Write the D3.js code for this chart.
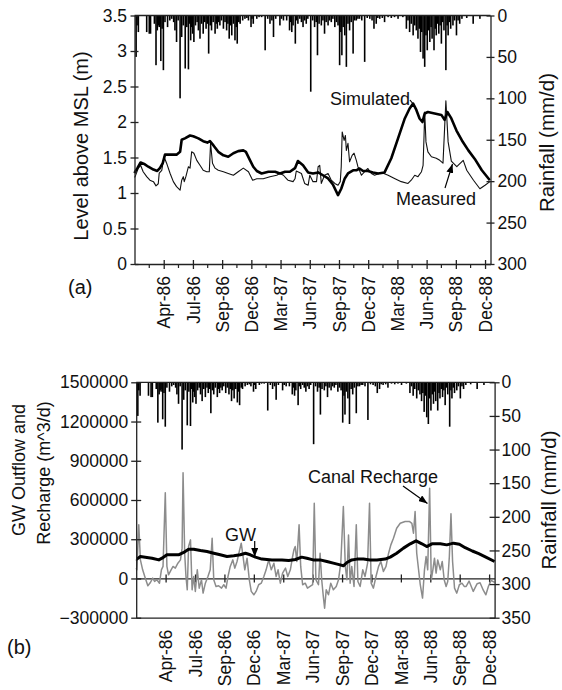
<!DOCTYPE html>
<html>
<head>
<meta charset="utf-8">
<script src="https://cdn.jsdelivr.net/npm/d3@7"></script>
<style>
  body { margin: 0; background: #fff; }
  svg text { font-family: "Liberation Sans", Arial, Helvetica, sans-serif; fill: #111; }
  .axis text { font-size: 17.5px; font-family: "Liberation Sans", Arial, Helvetica, sans-serif; }
  .axis line, .axis path { stroke: #222; stroke-width: 1.3; }
  .frame { stroke: #222; stroke-width: 1.3; }
</style>
</head>
<body>
<div id="chart"></div>
<script>
// all series are [day, value] where day = days after 31 Dec 1985
var startDay = new Date(1985, 11, 31);
var endDay = d3.timeDay.offset(startDay, 1109);
function toDate(d) { return d3.timeDay.offset(startDay, d); }

var tickDates = ["1986-04-01", "1986-07-01", "1986-09-30", "1986-12-30", "1987-03-31", "1987-06-30",
                 "1987-09-29", "1987-12-29", "1988-03-29", "1988-06-28", "1988-09-27", "1988-12-27"];
var levelTicks = [0, 0.5, 1, 1.5, 2, 2.5, 3, 3.5];
var rainTicksA = [0, 50, 100, 150, 200, 250, 300];
var flowTicks = [-300000, 0, 300000, 600000, 900000, 1200000, 1500000];
var rainTicksB = [0, 50, 100, 150, 200, 250, 300, 350];

// daily rainfall (mm/d)
var rainfall = [[5,50],[8,12],[12,20],[38,20],[46,22],[50,22],[62,10],[67,60],[71,18],[74,12],[77,14],[80,10],
  [82,55],[86,16],[90,66],[95,8],[103,14],[110,6],[116,4],[122,8],[126,18],[131,32],[136,6],[142,100],[147,26],
  [152,12],[158,64],[163,14],[168,65],[172,10],[175,30],[178,14],[181,22],[185,32],[190,12],[195,8],[199,18],
  [204,28],[209,10],[214,22],[219,8],[223,16],[227,10],[231,46],[236,12],[240,18],[245,8],[251,22],[255,10],
  [258,16],[262,8],[266,12],[271,6],[277,16],[282,8],[287,18],[291,10],[295,28],[299,12],[303,24],[308,10],
  [313,30],[317,14],[320,34],[325,8],[329,10],[337,6],[344,4],[350,3],[355,6],[363,14],[366,4],[370,10],[381,4],
  [388,2],[396,2],[407,42],[415,4],[422,10],[428,6],[433,26],[440,4],[453,12],[458,4],[464,6],[474,6],[483,18],
  [486,8],[490,20],[494,12],[501,34],[505,6],[509,10],[515,4],[520,8],[525,14],[530,6],[535,10],[540,4],[549,92],
  [555,6],[561,14],[566,8],[570,48],[575,10],[582,12],[587,6],[592,22],[597,8],[603,12],[608,6],[613,8],[618,4],
  [624,14],[629,8],[634,12],[639,60],[643,20],[646,48],[650,14],[655,24],[660,62],[665,10],[670,18],[675,8],
  [681,46],[686,6],[691,6],[696,4],[701,4],[708,6],[717,56],[725,3],[733,4],[740,6],[746,16],[753,10],[758,3],
  [764,4],[772,3],[779,8],[790,2],[800,3],[810,2],[821,4],[836,2],[847,16],[852,6],[857,20],[862,10],[868,24],
  [873,12],[878,18],[883,28],[887,16],[891,44],[895,20],[899,52],[904,62],[908,24],[912,42],[916,18],[920,32],
  [924,14],[927,28],[933,42],[937,16],[940,24],[944,10],[948,22],[952,12],[956,34],[960,8],[964,18],[970,66],
  [974,12],[977,24],[981,8],[985,16],[992,12],[997,6],[1003,24],[1008,6],[1013,10],[1020,4],[1035,3],[1055,10],[1076,4]];

// level above MSL (m)
var simulated = [[0,1.28],[2,1.30],[9,1.35],[19,1.43],[30,1.41],[43,1.37],[59,1.33],[71,1.31],[79,1.35],[88,1.42],
  [95,1.54],[111,1.54],[131,1.54],[142,1.58],[147,1.75],[157,1.77],[173,1.81],[183,1.80],[199,1.77],[214,1.73],
  [227,1.71],[235,1.73],[246,1.67],[261,1.58],[277,1.53],[292,1.51],[308,1.56],[323,1.59],[339,1.60],[347,1.58],
  [360,1.46],[370,1.37],[381,1.31],[396,1.275],[417,1.30],[438,1.30],[453,1.275],[469,1.30],[484,1.30],[500,1.35],
  [509,1.45],[525,1.39],[541,1.29],[556,1.275],[572,1.29],[587,1.25],[603,1.205],[618,1.12],[634,0.97],[644,1.06],
  [655,1.205],[665,1.275],[681,1.32],[691,1.32],[701,1.345],[712,1.31],[727,1.31],[743,1.29],[759,1.275],[779,1.29],
  [800,1.49],[821,1.77],[842,2.05],[857,2.19],[868,2.26],[878,2.17],[888,2.05],[897,2.00],[904,2.12],[914,2.14],
  [935,2.12],[956,2.10],[966,2.03],[975,2.14],[987,2.05],[1003,1.88],[1020,1.74],[1040,1.60],[1060,1.48],
  [1082,1.32],[1107,1.18]];

var measured = [[0,1.22],[2,1.23],[12,1.35],[19,1.39],[27,1.30],[38,1.23],[48,1.18],[59,1.16],[67,1.10],[74,1.13],
  [77,1.28],[85,1.32],[92,1.51],[100,1.42],[111,1.275],[121,1.16],[131,1.09],[142,1.04],[147,1.18],[152,1.23],
  [155,1.16],[160,1.23],[168,1.37],[173,1.35],[178,1.58],[185,1.56],[194,1.46],[204,1.39],[214,1.32],[225,1.30],
  [233,1.30],[237,1.70],[243,1.42],[251,1.35],[261,1.32],[277,1.30],[292,1.275],[308,1.25],[323,1.30],[339,1.35],
  [355,1.30],[368,1.18],[381,1.20],[401,1.20],[422,1.23],[443,1.25],[453,1.275],[464,1.25],[474,1.20],[478,1.18],
  [494,1.16],[500,1.20],[504,1.31],[520,1.275],[530,1.135],[541,1.11],[546,1.25],[556,1.16],[567,1.16],[572,1.37],
  [577,1.39],[582,1.135],[592,1.25],[603,1.275],[613,1.18],[624,1.135],[634,1.11],[641,1.16],[644,1.37],[647,1.86],
  [653,1.74],[657,1.81],[660,1.60],[665,1.70],[670,1.44],[678,1.53],[684,1.56],[691,1.46],[696,1.37],[707,1.25],
  [717,1.30],[727,1.345],[738,1.275],[748,1.25],[769,1.29],[790,1.25],[810,1.205],[831,1.16],[852,1.135],[862,1.18],
  [873,1.25],[883,1.23],[894,1.30],[899,1.39],[902,1.81],[904,2.14],[908,1.72],[914,1.58],[925,1.51],[940,1.49],
  [951,1.46],[961,1.42],[966,1.91],[970,2.30],[977,1.72],[987,1.45],[1004,1.37],[1024,1.46],[1035,1.32],[1056,1.18],
  [1076,1.06],[1092,1.11],[1107,1.16]];

// m^3/d
var gwOutflow = [[0,150000],[2,148000],[13,168000],[28,163000],[49,155000],[70,142000],[80,155000],[95,181000],
  [111,181000],[131,181000],[147,199000],[162,224000],[178,224000],[199,214000],[219,206000],[240,193000],
  [260,181000],[281,168000],[302,173000],[322,181000],[338,193000],[353,181000],[369,163000],[389,148000],
  [420,142000],[451,142000],[472,137000],[493,145000],[512,163000],[528,155000],[548,142000],[569,142000],
  [590,130000],[610,117000],[631,104000],[641,97000],[652,122000],[667,142000],[683,148000],[703,148000],
  [724,142000],[745,142000],[770,148000],[786,163000],[806,193000],[827,232000],[848,265000],[866,288000],
  [884,265000],[899,244000],[915,265000],[941,265000],[961,257000],[982,270000],[1000,262000],[1018,235000],
  [1040,210000],[1060,190000],[1085,160000],[1109,130000]];

var canalRecharge = [[0,80000],[2,66000],[8,410000],[13,142000],[20,66000],[28,3000],[36,-56000],[44,-31000],
  [51,3000],[57,-23000],[64,-10000],[72,-36000],[78,66000],[83,92000],[90,655000],[95,92000],[100,28000],
  [108,66000],[114,92000],[121,79000],[129,117000],[137,142000],[142,232000],[145,809000],[150,193000],[154,15000],
  [158,-87000],[162,244000],[168,295000],[173,-87000],[178,15000],[183,-99000],[189,66000],[195,-74000],
  [202,-10000],[207,-112000],[214,-36000],[222,15000],[229,66000],[235,308000],[240,-10000],[247,-61000],
  [255,-56000],[264,-74000],[271,-48000],[278,-74000],[284,15000],[291,92000],[299,142000],[305,79000],
  [312,130000],[319,206000],[325,270000],[330,181000],[336,66000],[343,155000],[350,-10000],[356,-99000],
  [364,-125000],[371,-99000],[379,-48000],[387,-36000],[395,15000],[402,66000],[410,142000],[418,66000],
  [426,117000],[433,15000],[439,66000],[446,-36000],[453,41000],[462,79000],[469,15000],[477,66000],[484,168000],
  [488,219000],[492,244000],[497,130000],[504,410000],[509,92000],[515,-48000],[523,-36000],[530,-74000],
  [538,-61000],[546,-48000],[551,575000],[556,-10000],[564,-48000],[569,193000],[574,-10000],[579,-137000],
  [583,-227000],[588,-87000],[595,-125000],[602,-36000],[610,-87000],[619,-61000],[626,-10000],[633,117000],
  [641,550000],[647,92000],[652,-10000],[657,333000],[662,-36000],[667,92000],[674,-61000],[681,410000],
  [686,-23000],[693,-61000],[701,66000],[708,15000],[716,117000],[722,575000],[727,-36000],[734,-74000],
  [742,15000],[750,92000],[757,130000],[765,53000],[773,92000],[781,193000],[788,257000],[796,308000],
  [806,384000],[817,422000],[832,435000],[846,435000],[853,422000],[858,346000],[863,512000],[868,193000],
  [879,-48000],[886,-150000],[892,66000],[897,168000],[902,66000],[908,690000],[913,-10000],[918,66000],
  [923,155000],[928,41000],[933,142000],[941,66000],[947,130000],[953,-10000],[959,-61000],[964,-23000],
  [969,168000],[974,495000],[979,130000],[985,-74000],[992,-112000],[1000,-48000],[1008,-36000],[1015,-61000],
  [1021,-61000],[1030,-20000],[1043,-99000],[1055,-40000],[1064,-33000],[1074,-90000],[1082,-125000],
  [1090,-60000],[1098,-15000],[1109,-30000]];

var parseDay = d3.timeParse("%Y-%m-%d");
var ticks = tickDates.map(parseDay);
var minorTicks = ticks.map(function (t) { return d3.timeDay.offset(t, -45); });
var fmt = d3.timeFormat("%b-%y");

var svg = d3.select("#chart").append("svg")
    .attr("width", 562)
    .attr("height", 690);

var defs = svg.append("defs");
defs.append("marker")
    .attr("id", "arrow")
    .attr("viewBox", "0 0 10 10")
    .attr("refX", 10).attr("refY", 5)
    .attr("markerWidth", 9).attr("markerHeight", 7)
    .attr("markerUnits", "userSpaceOnUse")
    .attr("preserveAspectRatio", "none")
    .attr("orient", "auto")
  .append("path")
    .attr("d", "M0,0L10,5L0,10z")
    .attr("fill", "#000");

function rotateLabels(g, off) {
  g.selectAll(".tick text")
    .attr("transform", "rotate(-90)")
    .attr("text-anchor", "end")
    .attr("x", -off)
    .attr("y", 0)
    .attr("dy", "0.35em");
}

// ---------- panel (a) ----------
var pa = { left: 134.5, right: 490.5, top: 15.5, bottom: 264 };
var xA = d3.scaleTime().domain([startDay, endDay]).range([pa.left, pa.right]);
var yA = d3.scaleLinear().domain([0, 3.5]).range([pa.bottom, pa.top]);
var rA = d3.scaleLinear().domain([0, 300]).range([pa.top, pa.bottom]);

svg.append("g").selectAll("rect")
    .data(rainfall)
  .enter().append("rect")
    .attr("x", function (d) { return xA(toDate(d[0])) - 0.8; })
    .attr("y", pa.top)
    .attr("width", 1.6)
    .attr("height", function (d) { return rA(d[1]) - pa.top; })
    .attr("fill", "#000");

var lineA = d3.line()
    .x(function (d) { return xA(toDate(d[0])); })
    .y(function (d) { return yA(d[1]); });

svg.append("path").datum(measured)
    .attr("d", lineA).attr("fill", "none")
    .attr("stroke", "#111").attr("stroke-width", 1.1).attr("stroke-linejoin", "round");
svg.append("path").datum(simulated)
    .attr("d", lineA).attr("fill", "none")
    .attr("stroke", "#000").attr("stroke-width", 2.6).attr("stroke-linejoin", "round");

svg.append("line").attr("class", "frame")
    .attr("x1", pa.left).attr("x2", pa.right).attr("y1", pa.top).attr("y2", pa.top);

var leftA = svg.append("g").attr("class", "axis")
    .attr("transform", "translate(" + pa.left + ",0)")
    .call(d3.axisLeft(yA).tickValues(levelTicks).tickFormat(d3.format(""))
      .tickSize(4).tickSizeOuter(0).tickPadding(3.5));
leftA.selectAll(".tick line").attr("x1", 4);

var rightA = svg.append("g").attr("class", "axis")
    .attr("transform", "translate(" + pa.right + ",0)")
    .call(d3.axisRight(rA).tickValues(rainTicksA).tickSize(4).tickSizeOuter(0).tickPadding(3));
rightA.selectAll(".tick line").attr("x1", -4);

var botA = svg.append("g").attr("class", "axis")
    .attr("transform", "translate(0," + pa.bottom + ")")
    .call(d3.axisBottom(xA).tickValues(ticks).tickFormat(fmt).tickSize(5).tickSizeOuter(0));
botA.selectAll(".tick line").attr("y1", -4);
rotateLabels(botA, 12);

svg.append("g").selectAll("line")
    .data(minorTicks)
  .enter().append("line")
    .attr("x1", function (d) { return xA(d); })
    .attr("x2", function (d) { return xA(d); })
    .attr("y1", pa.bottom).attr("y2", pa.bottom + 4)
    .attr("stroke", "#222").attr("stroke-width", 1.2);

svg.append("text")
    .attr("transform", "translate(81,146) rotate(-90)")
    .attr("text-anchor", "middle").attr("dy", "0.35em")
    .style("font-size", "20px")
    .text("Level above MSL (m)");

svg.append("text")
    .attr("transform", "translate(547,142.5) rotate(-90)")
    .attr("text-anchor", "middle").attr("dy", "0.35em")
    .style("font-size", "20.5px")
    .text("Rainfall (mm/d)");

svg.append("text").attr("x", 68).attr("y", 294).style("font-size", "20px").text("(a)");

svg.append("text").attr("x", 330).attr("y", 104.5).style("font-size", "18px").text("Simulated");
svg.append("line").attr("x1", 410).attr("y1", 100).attr("x2", 413.5).attr("y2", 104.5)
    .attr("stroke", "#000").attr("stroke-width", 1.2);

svg.append("text").attr("x", 396).attr("y", 204.5).style("font-size", "18px").text("Measured");
svg.append("line").attr("x1", 445).attr("y1", 188).attr("x2", 452.5).attr("y2", 164)
    .attr("stroke", "#000").attr("stroke-width", 1.2).attr("marker-end", "url(#arrow)");

// ---------- panel (b) ----------
var pb = { left: 136.2, right: 494.6, top: 382.3, bottom: 617.7 };
var xB = d3.scaleTime().domain([startDay, endDay]).range([pb.left, pb.right]);
var yB = d3.scaleLinear().domain([-300000, 1500000]).range([pb.bottom, pb.top]);
var rB = d3.scaleLinear().domain([0, 350]).range([pb.top, pb.bottom]);

svg.append("g").selectAll("rect")
    .data(rainfall)
  .enter().append("rect")
    .attr("x", function (d) { return xB(toDate(d[0])) - 0.8; })
    .attr("y", pb.top)
    .attr("width", 1.6)
    .attr("height", function (d) { return rB(d[1]) - pb.top; })
    .attr("fill", "#000");

// x axis along zero line (ticks only)
var zeroB = svg.append("g").attr("class", "axis")
    .attr("transform", "translate(0," + yB(0) + ")")
    .call(d3.axisBottom(xB).tickValues(ticks).tickFormat("").tickSize(4).tickSizeOuter(0));
zeroB.selectAll(".tick line").attr("y1", -4);

var lineB = d3.line()
    .x(function (d) { return xB(toDate(d[0])); })
    .y(function (d) { return yB(d[1]); });

svg.append("path").datum(canalRecharge)
    .attr("d", lineB).attr("fill", "none")
    .attr("stroke", "#8c8c8c").attr("stroke-width", 1.5).attr("stroke-linejoin", "round");
svg.append("path").datum(gwOutflow)
    .attr("d", lineB).attr("fill", "none")
    .attr("stroke", "#000").attr("stroke-width", 3).attr("stroke-linejoin", "round");

svg.append("line").attr("class", "frame")
    .attr("x1", pb.left).attr("x2", pb.right).attr("y1", pb.top).attr("y2", pb.top);

var leftB = svg.append("g").attr("class", "axis")
    .attr("transform", "translate(" + pb.left + ",0)")
    .call(d3.axisLeft(yB).tickValues(flowTicks).tickFormat(d3.format("d"))
      .tickSize(5).tickSizeOuter(0).tickPadding(3));
leftB.selectAll(".tick line").attr("x1", 5);

var rightB = svg.append("g").attr("class", "axis")
    .attr("transform", "translate(" + pb.right + ",0)")
    .call(d3.axisRight(rB).tickValues(rainTicksB).tickSize(5).tickSizeOuter(0).tickPadding(2));
rightB.selectAll(".tick line").attr("x1", -5);

var botB = svg.append("g").attr("class", "axis")
    .attr("transform", "translate(0," + pb.bottom + ")")
    .call(d3.axisBottom(xB).tickValues(ticks).tickFormat(fmt).tickSize(0).tickSizeOuter(0));
rotateLabels(botB, 12);

svg.append("text")
    .attr("transform", "translate(19,470) rotate(-90)")
    .attr("text-anchor", "middle").attr("dy", "0.35em")
    .style("font-size", "18px")
    .text("GW Outflow and");
svg.append("text")
    .attr("transform", "translate(44,473) rotate(-90)")
    .attr("text-anchor", "middle").attr("dy", "0.35em")
    .style("font-size", "18px")
    .text("Recharge (m^3/d)");

svg.append("text")
    .attr("transform", "translate(549,500) rotate(-90)")
    .attr("text-anchor", "middle").attr("dy", "0.35em")
    .style("font-size", "20.5px")
    .text("Rainfall (mm/d)");

svg.append("text").attr("x", 7).attr("y", 654).style("font-size", "20px").text("(b)");

svg.append("text").attr("x", 225).attr("y", 540.5).style("font-size", "18px").text("GW");
svg.append("line").attr("x1", 254.7).attr("y1", 541).attr("x2", 254.7).attr("y2", 557)
    .attr("stroke", "#000").attr("stroke-width", 1.2).attr("marker-end", "url(#arrow)");

svg.append("text").attr("x", 308).attr("y", 483).style("font-size", "18px").text("Canal Recharge");
svg.append("line").attr("x1", 403).attr("y1", 486).attr("x2", 427.5).attr("y2", 503.5)
    .attr("stroke", "#000").attr("stroke-width", 1.2).attr("marker-end", "url(#arrow)");
</script>
</body>
</html>
